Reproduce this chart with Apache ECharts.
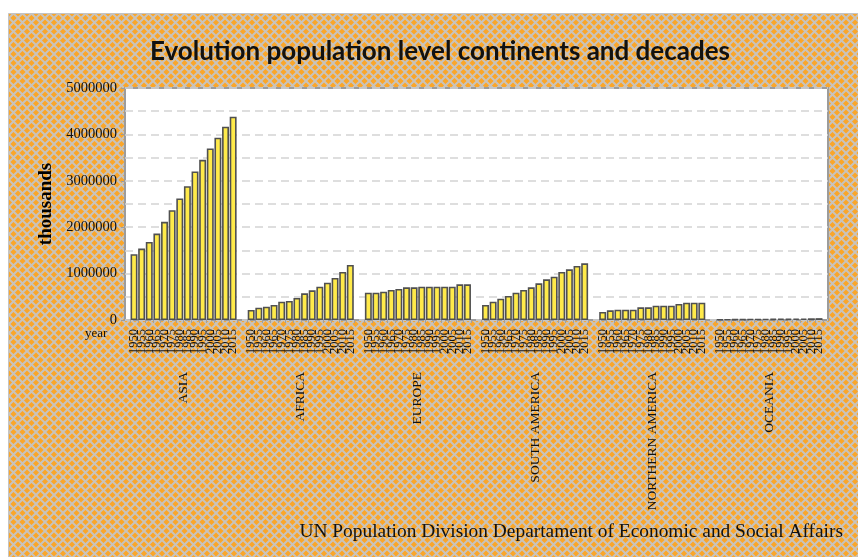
<!DOCTYPE html>
<html>
<head>
<meta charset="utf-8">
<title>Evolution population level continents and decades</title>
<script src="https://cdn.jsdelivr.net/npm/echarts@6/dist/echarts.min.js"></script>
<style>
  html, body { margin: 0; padding: 0; background: #ffffff; }
  #chart { width: 858px; height: 557px; }
</style>
</head>
<body>
<div id="chart"></div>
<script>
// Population by continent and census year, in thousands
const years = ['1950', '1955', '1960', '1965', '1970', '1975', '1980',
               '1985', '1990', '1995', '2000', '2005', '2010', '2015'];
const continents = ['ASIA', 'AFRICA', 'EUROPE', 'SOUTH AMERICA', 'NORTHERN AMERICA', 'OCEANIA'];

const asia = [1417000, 1540000, 1683000, 1863000, 2115000, 2367000, 2619000,
              2885000, 3201000, 3453000, 3698000, 3928000, 4165000, 4381000];
const africa = [215000, 266000, 287000, 323000, 395000, 409000, 474000,
                575000, 640000, 718000, 805000, 905000, 1034000, 1185000];
const europe = [589000, 589000, 611000, 647000, 668000, 704000, 704000,
                718000, 718000, 718000, 718000, 718000, 769000, 769000];
const southAmerica = [323000, 395000, 460000, 517000, 589000, 647000, 704000,
                      790000, 876000, 934000, 1034000, 1092000, 1164000, 1221000];
const northAmerica = [172000, 209000, 222000, 222000, 222000, 274000, 274000,
                      308000, 308000, 308000, 345000, 373000, 373000, 373000];
const oceania = [13000, 14000, 16000, 18000, 20000, 21000, 23000,
                 25000, 27000, 29000, 31000, 34000, 37000, 40000];

const groups = [asia, africa, europe, southAmerica, northAmerica, oceania];

const yMin = 0, yMax = 5000000, yStep = 1000000;

const titleText = 'Evolution population level continents and decades';
const yName = 'thousands';
const xName = 'year';
const sourceText = 'UN Population Division Departament of Economic and Social Affairs';

// Cross-hatched orange panel tile
function hatchTile() {
  const s = 9;
  const c = document.createElement('canvas');
  c.width = s; c.height = s;
  const g = c.getContext('2d');
  g.fillStyle = '#faa62a';
  g.fillRect(0, 0, s, s);
  g.strokeStyle = '#c9c3bb';
  g.lineWidth = 2;
  g.beginPath();
  g.moveTo(-1, -1); g.lineTo(s + 1, s + 1);
  g.moveTo(s + 1, -1); g.lineTo(-1, s + 1);
  g.stroke();
  return c;
}

const plot = { left: 125, top: 88, width: 703, height: 232 };
const slot = plot.width / groups.length;
const pad = 5.2;
const serif = '"Liberation Serif", "Times New Roman", serif';

const grids = [{
  left: plot.left, top: plot.top, width: plot.width, height: plot.height,
  show: true, backgroundColor: '#ffffff', borderColor: '#9c9c9c', borderWidth: 2
}];
const xAxes = [{ gridIndex: 0, type: 'value', show: false, min: 0, max: 1 }];
const yAxes = [{
  gridIndex: 0, type: 'value', min: yMin, max: yMax, interval: yStep,
  name: yName, nameLocation: 'middle', nameRotate: 90, nameGap: 67,
  nameTextStyle: { fontFamily: serif, fontWeight: 'bold', fontSize: 19, color: '#000' },
  axisLine: { show: false },
  axisTick: { show: true, length: 4, lineStyle: { color: '#9c9c9c', width: 1 } },
  axisLabel: {
    fontFamily: serif, fontSize: 14.5, color: '#111', margin: 8,
    formatter: function (v) { return String(v); }
  },
  splitLine: { show: true, lineStyle: { color: '#d4d4d4', width: 1.5, type: [8, 5] } },
  minorTick: { show: false, splitNumber: 2 },
  minorSplitLine: { show: true, lineStyle: { color: '#d4d4d4', width: 1.5, type: [8, 5] } }
}];
const series = [];

groups.forEach(function (values, i) {
  grids.push({
    left: plot.left + i * slot + pad, top: plot.top,
    width: slot - 2 * pad, height: plot.height
  });
  const gi = i + 1;
  xAxes.push({
    gridIndex: gi, type: 'category', data: years, position: 'bottom',
    axisLine: { show: false },
    axisTick: { show: true, length: 3, lineStyle: { color: '#a0a0a0', width: 1 } },
    axisLabel: { interval: 0, rotate: 90, fontFamily: serif, fontSize: 12.5, color: '#111', margin: 9 }
  });
  xAxes.push({
    gridIndex: gi, type: 'category', data: [continents[i]], position: 'bottom', offset: 44,
    axisLine: { show: false }, axisTick: { show: false },
    axisLabel: { interval: 0, rotate: 90, fontFamily: serif, fontSize: 13.5, color: '#111', margin: 8 }
  });
  yAxes.push({ gridIndex: gi, type: 'value', min: yMin, max: yMax, show: false });
  series.push({
    type: 'bar', name: continents[i],
    xAxisIndex: xAxes.length - 2, yAxisIndex: yAxes.length - 1,
    data: values, barCategoryGap: '9%',
    itemStyle: { color: '#ffea4a', borderColor: '#505050', borderWidth: 1.6 },
    emphasis: { disabled: true }
  });
});

const chart = echarts.init(document.getElementById('chart'), null, { renderer: 'canvas' });
chart.setOption({
  animation: false,
  backgroundColor: '#ffffff',
  graphic: [
    {
      type: 'rect', z: -10, silent: true,
      shape: { x: 8.5, y: 13.5, width: 860, height: 560 },
      style: { fill: { image: hatchTile(), repeat: 'repeat' }, stroke: '#c4c4c4', lineWidth: 1 }
    },
    {
      type: 'text', z: 10, left: 150, top: 39,
      style: { text: titleText, font: 'bold 26px Lato, "Open Sans", sans-serif', fill: '#111' }
    },
    {
      type: 'text', z: 10, x: 85, y: 327,
      style: { text: xName, font: '13px ' + serif, fill: '#111' }
    },
    {
      type: 'text', z: 10, x: 843, y: 522,
      style: { text: sourceText, font: '19.4px ' + serif, fill: '#111', align: 'right' }
    }
  ],
  grid: grids,
  xAxis: xAxes,
  yAxis: yAxes,
  series: series
});
</script>
</body>
</html>
